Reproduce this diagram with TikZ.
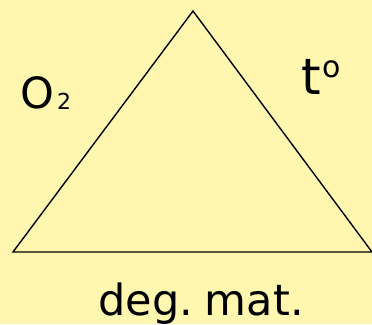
\documentclass[tikz,border=0pt]{standalone}
\usepackage{fontspec}
\setmainfont{DejaVu Sans}
\usepackage{xcolor}
\definecolor{paper}{HTML}{FFF7AF}
\tikzset{
  side/.style = {draw=black, line width=1.4pt, line join=miter},
  lbl/.style  = {inner sep=0pt, font=\fontsize{43}{46}\selectfont},
  big/.style  = {inner sep=0pt, font=\fontsize{50}{54}\selectfont},
}
\newcommand{\smallfig}[3]{\raisebox{#1}{\fontsize{#2}{#2}\selectfont #3}}

\begin{document}
\begin{tikzpicture}[x=1pt, y=-1pt]
  \fill[paper] (0,0) rectangle (372,324);
  \useasboundingbox (0,0) rectangle (372,324);
  % corners of the triangle
  \coordinate (top)   at (193,11);
  \coordinate (left)  at (13,252);
  \coordinate (right) at (372,252);
  \draw[side] (left) -- (top) -- (right) -- cycle;
  % labels
  \node[lbl, anchor=base west] (oxy)  at (20,108)  {O\kern3pt\smallfig{-1pt}{22}{2}};
  \node[big, anchor=base west] (temp) at (301,94)  {t\kern2pt\smallfig{17pt}{30}{o}};
  \node[lbl, anchor=base]      (mat)  at (201,315) {deg.\hspace{12pt}mat.};
\end{tikzpicture}
\end{document}
